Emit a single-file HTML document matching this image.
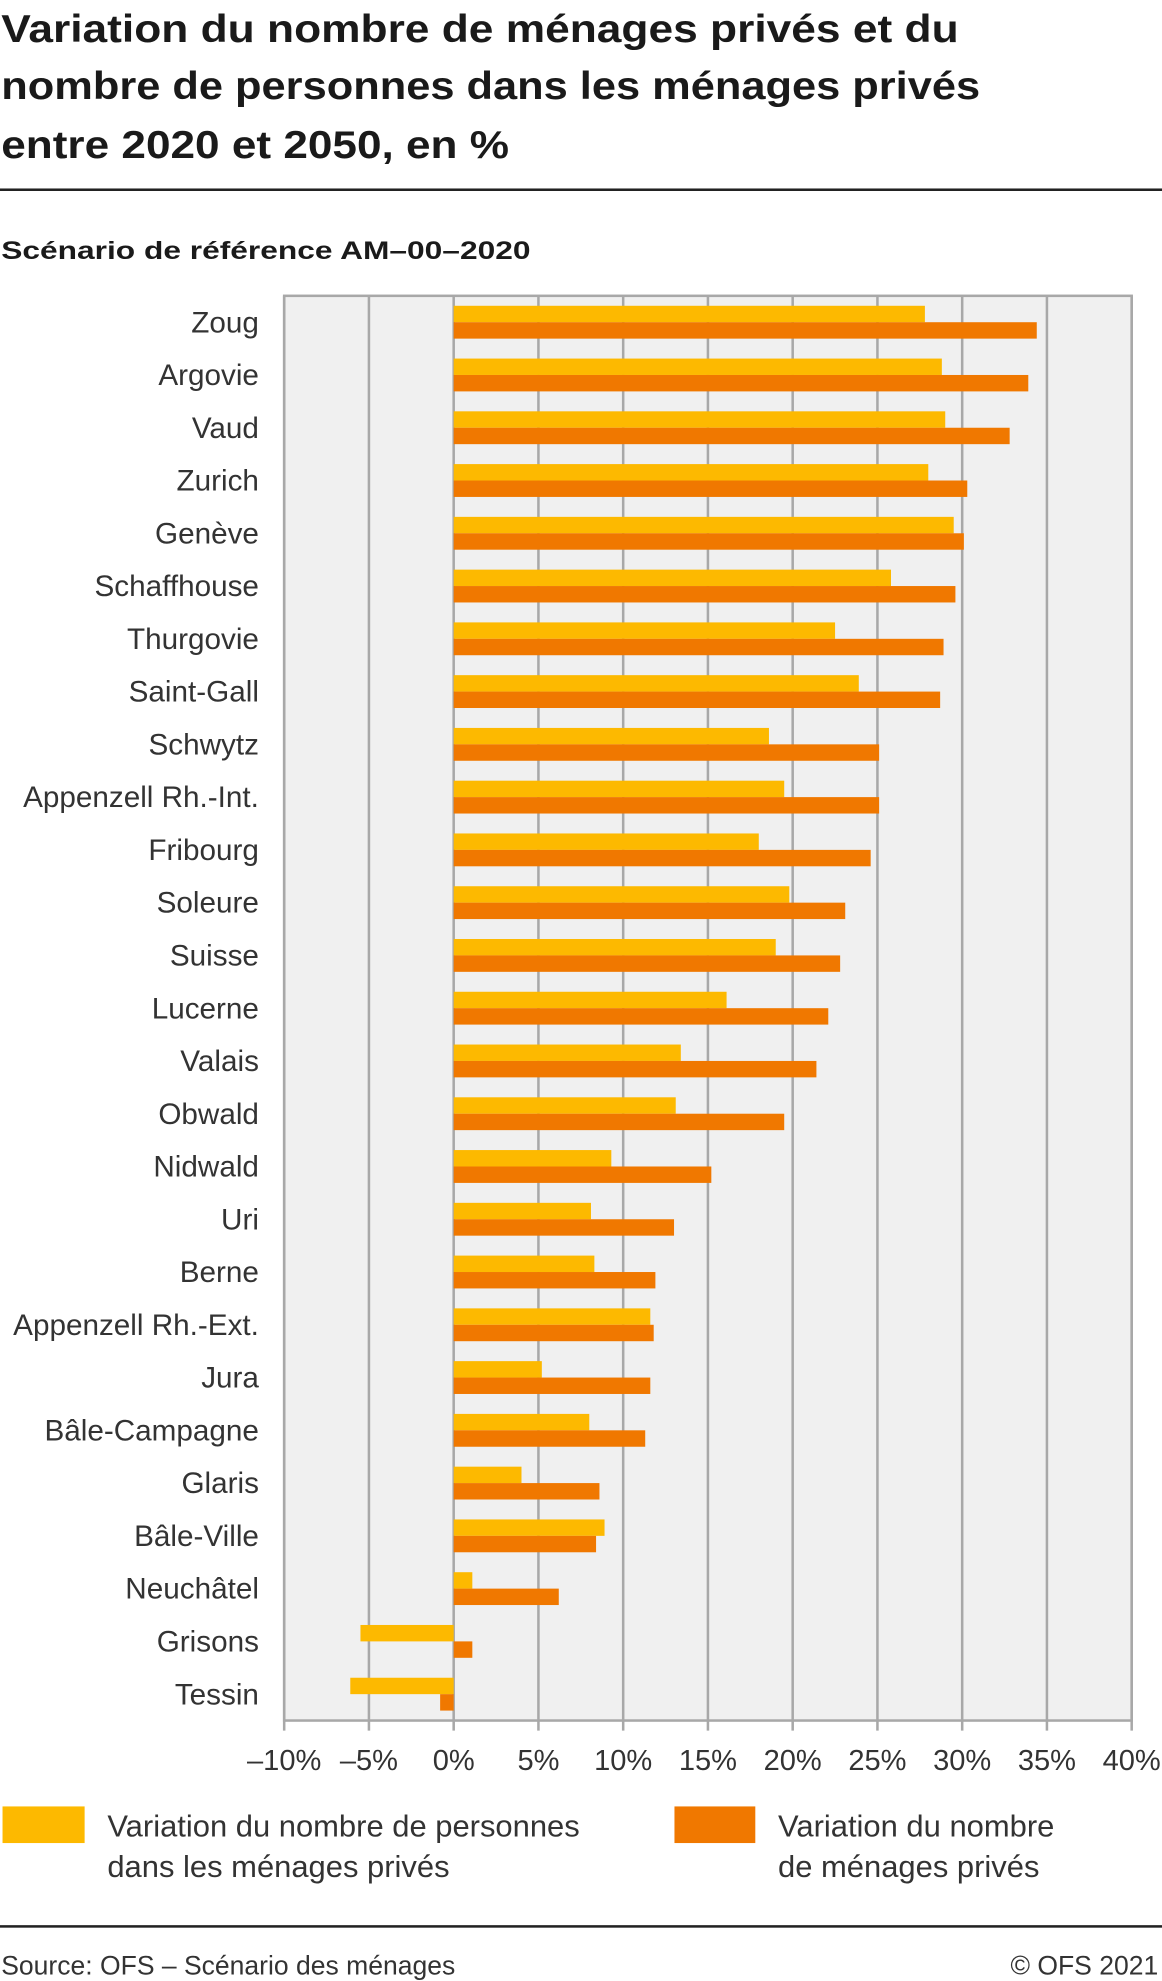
<!DOCTYPE html>
<html><head><meta charset="utf-8"><style>
html,body{margin:0;padding:0;background:#fff;}
svg{display:block;font-family:"Liberation Sans",sans-serif;}
</style></head><body>
<svg id="chart" width="1162" height="1981" viewBox="0 0 920 1568" xmlns="http://www.w3.org/2000/svg">
<g font-weight="bold" font-size="31" fill="#1a1a1a">
<text x="1" y="33" textLength="758" lengthAdjust="spacingAndGlyphs">Variation du nombre de ménages privés et du</text>
<text x="1" y="78" textLength="775" lengthAdjust="spacingAndGlyphs">nombre de personnes dans les ménages privés</text>
<text x="1" y="125" textLength="402" lengthAdjust="spacingAndGlyphs">entre 2020 et 2050, en %</text>
</g>
<rect x="0" y="149" width="920" height="2" fill="#222"/>
<text x="1" y="205" font-size="20" font-weight="bold" fill="#1a1a1a" textLength="419" lengthAdjust="spacingAndGlyphs">Scénario de référence AM–00–2020</text>
<g id="plot"></g>
<g font-size="24.5" fill="#333">
<rect x="2" y="1430" width="65" height="29" fill="#fdb900"/>
<text x="85" y="1454">Variation du nombre de personnes</text>
<text x="85" y="1486">dans les ménages privés</text>
<rect x="534" y="1430" width="64" height="29" fill="#f07800"/>
<text x="616" y="1454">Variation du nombre</text>
<text x="616" y="1486">de ménages privés</text>
</g>
<rect x="0" y="1524" width="920" height="2" fill="#222"/>
<text x="1" y="1563" font-size="21" fill="#333">Source: OFS – Scénario des ménages</text>
<text x="917" y="1563" font-size="21" fill="#333" text-anchor="end">© OFS 2021</text>
</svg>
<script>
const categories=["Zoug","Argovie","Vaud","Zurich","Genève","Schaffhouse","Thurgovie","Saint-Gall","Schwytz","Appenzell Rh.-Int.","Fribourg","Soleure","Suisse","Lucerne","Valais","Obwald","Nidwald","Uri","Berne","Appenzell Rh.-Ext.","Jura","Bâle-Campagne","Glaris","Bâle-Ville","Neuchâtel","Grisons","Tessin"];
const personsValues=[27.8,28.8,29.0,28.0,29.5,25.8,22.5,23.9,18.6,19.5,18.0,19.8,19.0,16.1,13.4,13.1,9.3,8.1,8.3,11.6,5.2,8.0,4.0,8.9,1.1,-5.5,-6.1];
const householdValues=[34.4,33.9,32.8,30.3,30.1,29.6,28.9,28.7,25.1,25.1,24.6,23.1,22.8,22.1,21.4,19.5,15.2,13.0,11.9,11.8,11.6,11.3,8.6,8.4,6.2,1.1,-0.8];
const tickValues=[-10,-5,0,5,10,15,20,25,30,35,40];
const tickLabels=["–10%","–5%","0%","5%","10%","15%","20%","25%","30%","35%","40%"];

const NS="http://www.w3.org/2000/svg";
const plot=document.getElementById('plot');
const L=225,R=896,T=234,B=1362,xMin=-10,xMax=40;
const x=v=>L+(v-xMin)/(xMax-xMin)*(R-L);
const rowH=(B-T)/categories.length;
const y=i=>T+rowH*(i+0.5);
function mk(tag,attrs){const e=document.createElementNS(NS,tag);for(const k in attrs)e.setAttribute(k,attrs[k]);plot.appendChild(e);return e;}

const bg=mk('rect',{x:L,y:T,width:R-L,height:B-T,fill:'#f0f0f0'});


tickValues.forEach((v,i)=>{
  const g=mk('line',{x1:x(v),x2:x(v),y1:T,y2:B+8,stroke:'#a8a8a8','stroke-width':2});
  
  
  const t=mk('text',{x:x(v),y:1401,'font-size':23,fill:'#333','text-anchor':'middle'});
  t.textContent=tickLabels[i];
  
  
});
const bh=13;
categories.forEach((c,i)=>{
  const cy=y(i);
  const pv=personsValues[i],hv=householdValues[i];
  const b1=mk('rect',{x:Math.min(x(0),x(pv)),y:cy-bh,width:Math.abs(x(pv)-x(0)),height:bh,fill:'#fdb900'});
  
  
  const b2=mk('rect',{x:Math.min(x(0),x(hv)),y:cy,width:Math.abs(x(hv)-x(0)),height:bh,fill:'#f07800'});
  
  
  const t=mk('text',{x:205,y:cy+8,'font-size':23.5,fill:'#333','text-anchor':'end'});
  t.textContent=c;
  
  
});
const fr=mk('rect',{x:L,y:T,width:R-L,height:B-T,fill:'none',stroke:'#a8a8a8','stroke-width':2});


</script>
</body></html>
